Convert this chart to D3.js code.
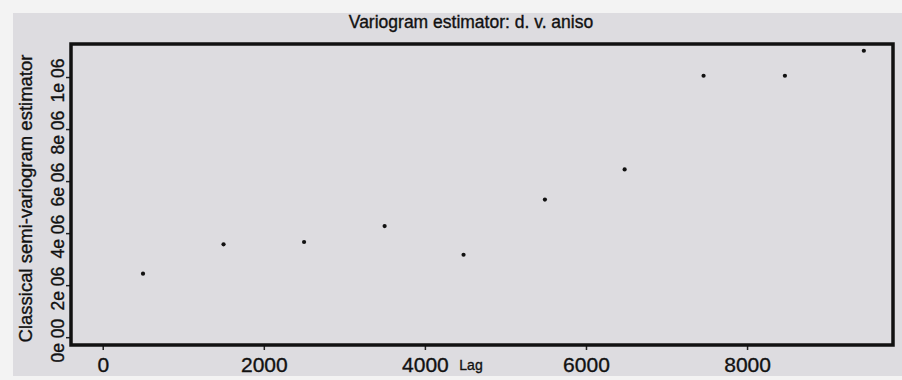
<!DOCTYPE html>
<html>

<head>
    <meta charset="utf-8">
    <style>
        body {
            margin: 0;
            background: #f3f3f3;
        }

        svg {
            display: block;
            font-family: 'Liberation Sans', Arial, Helvetica, sans-serif;
        }

        /* printed page text looks a bit heavier */
        svg text {
            stroke: #111;
            stroke-width: 0.35px;
        }
    </style>
</head>

<body>
    <svg width="902" height="380"></svg>
</body>

<script src="https://cdnjs.cloudflare.com/ajax/libs/d3/7.8.5/d3.min.js"></script>

<script>
    // lag distances and semi-variogram values
    let lags = [500, 1500, 2500, 3500, 4480, 5490, 6480, 7460, 8470, 9450];
    let gammas = [2.44e6, 3.57e6, 3.66e6, 4.27e6, 3.17e6, 5.29e6, 6.45e6, 10.05e6, 10.05e6, 11.01e6];

    let xTicks = [0, 2000, 4000, 6000, 8000];
    let yTicks = [0, 2e6, 4e6, 6e6, 8e6, 1e7];
    let yTickLabels = ["0e 00", "2e 06", "4e 06", "6e 06", "8e 06", "1e 06"];

    let width = 902;
    let height = 380;

    let box = { left: 71, right: 893, top: 44, bottom: 345 };

    let svg = d3.select("svg");

    // paper
    svg.append("rect")
        .attr("x", 13)
        .attr("y", 13)
        .attr("width", width - 13)
        .attr("height", 363)
        .attr("fill", "#dddce0");

    let x = d3.scaleLinear()
        .domain([-394, 9812])
        .range([box.left, box.right]);

    let y = d3.scaleLinear()
        .domain([-0.30e6, 11.27e6])
        .range([box.bottom, box.top]);

    // x axis
    let xAxis = svg.append("g")
        .attr("transform", "translate(0," + box.bottom + ")")
        .call(d3.axisBottom(x)
            .tickValues(xTicks)
            .tickSize(5)
            .tickPadding(7)
            .tickFormat(d3.format("d")));
    xAxis.select(".domain").remove();
    xAxis.selectAll(".tick line").attr("stroke", "#222").attr("stroke-width", 1.5);
    xAxis.selectAll("text")
        .attr("font-size", 21)
        .attr("fill", "#111")
        .attr("font-family", "'Liberation Sans', Arial, sans-serif");

    // y axis
    let yAxis = svg.append("g")
        .attr("transform", "translate(" + box.left + ",0)")
        .call(d3.axisLeft(y)
            .tickValues(yTicks)
            .tickSize(5)
            .tickFormat((d, i) => yTickLabels[i]));
    yAxis.select(".domain").remove();
    yAxis.selectAll(".tick line").attr("stroke", "#222").attr("stroke-width", 1.5);
    yAxis.selectAll("text")
        .attr("x", null)
        .attr("dy", null)
        .attr("transform", "translate(-7,3) rotate(-90)")
        .attr("text-anchor", "middle")
        .attr("font-size", 17.5)
        .attr("fill", "#111")
        .attr("font-family", "'Liberation Sans', Arial, sans-serif");

    // frame
    svg.append("rect")
        .attr("x", box.left)
        .attr("y", box.top)
        .attr("width", box.right - box.left)
        .attr("height", box.bottom - box.top)
        .attr("fill", "none")
        .attr("stroke", "#111")
        .attr("stroke-width", 3.5);

    // points
    svg.selectAll(".pt")
        .data(lags)
        .join("circle")
        .attr("class", "pt")
        .attr("cx", d => x(d))
        .attr("cy", (d, i) => y(gammas[i]))
        .attr("r", 2.1)
        .attr("fill", "#111");

    // titles
    svg.append("text")
        .attr("x", 471)
        .attr("y", 28)
        .attr("text-anchor", "middle")
        .attr("font-size", 17.5)
        .attr("fill", "#111")
        .text("Variogram estimator: d. v. aniso");

    svg.append("text")
        .attr("transform", "translate(32," + ((box.top + box.bottom) / 2 + 4) + ") rotate(-90)")
        .attr("text-anchor", "middle")
        .attr("font-size", 18.5)
        .attr("fill", "#111")
        .text("Classical semi-variogram estimator");

    svg.append("text")
        .attr("x", 471)
        .attr("y", 370)
        .attr("text-anchor", "middle")
        .attr("font-size", 14)
        .attr("font-family", "'Liberation Sans Narrow', 'Liberation Sans', Arial, sans-serif")
        .attr("fill", "#111")
        .text("Lag");
</script>

</html>
